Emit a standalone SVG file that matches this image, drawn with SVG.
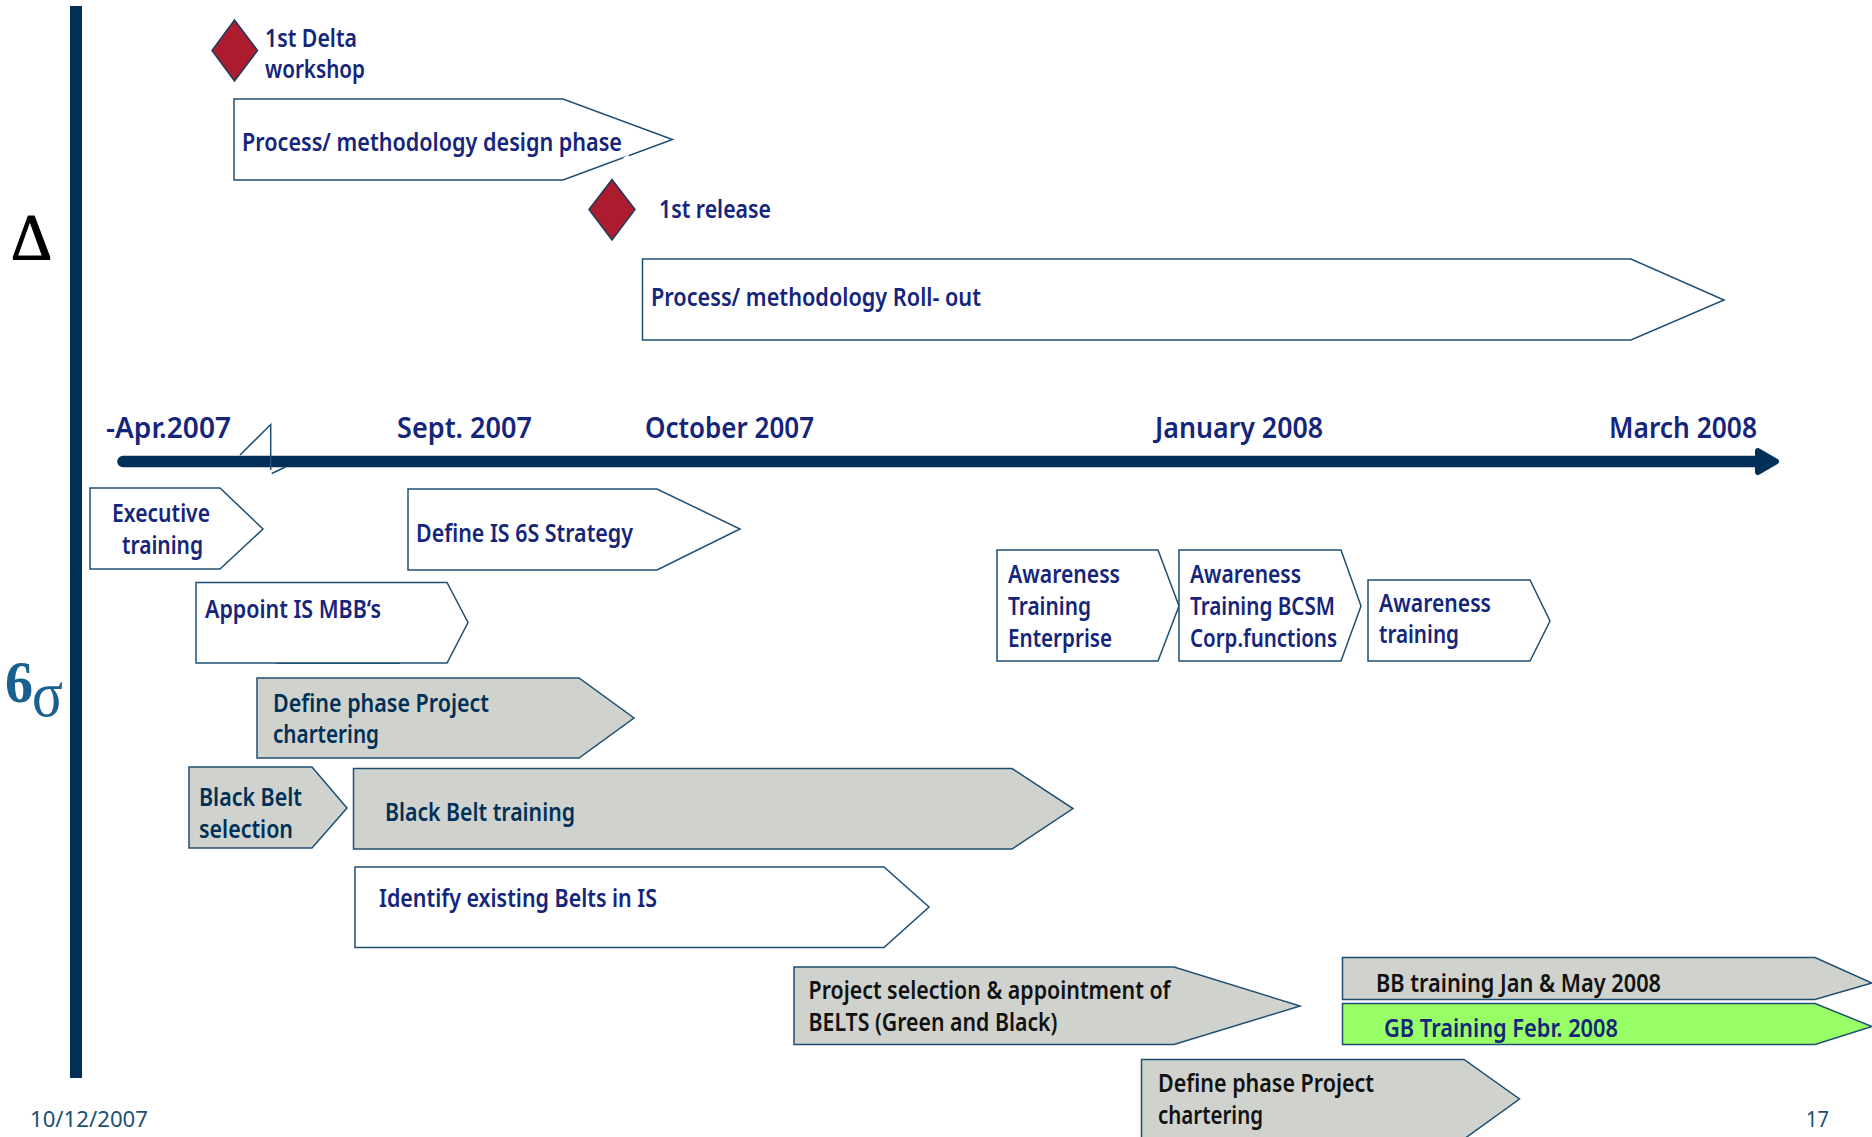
<svg xmlns="http://www.w3.org/2000/svg" width="1872" height="1137" viewBox="0 0 1872 1137">
<style>
text{font-family:"Noto Sans","Liberation Sans",sans-serif;font-size:25px;font-weight:600;fill:#14257a}
.d{fill:#003057}.k{fill:#111}
.date{font-size:29px}
.foot{font-size:21px;font-weight:400;fill:#1d4f73}
.s{stroke:#1d4f73;stroke-width:1.5;fill:#fff}
.g{fill:#d0d3cd}.l{fill:#99ff66}
.m{fill:#ad1c2e;stroke:#1d3a5f;stroke-width:1.5}
</style>
<defs><marker id="a" markerUnits="userSpaceOnUse" markerWidth="28" markerHeight="32" refX="3" refY="16" orient="auto"><path d="M3 5.500L21 16L3 26.500Z" fill="#003057" stroke="#003057" stroke-width="6" stroke-linejoin="round"/></marker></defs>
<rect id="bar" x="70" y="6" width="12" height="1072" fill="#003057"/>
<g id="symbols">
<text x="11" y="259" style="font-family:'Liberation Serif',serif;font-size:66px;font-weight:400;fill:#000;stroke:#000;stroke-width:1.2px" textLength="41" lengthAdjust="spacingAndGlyphs">Δ</text>
<text x="5" y="702" style="font-family:'Liberation Serif',serif;font-size:60px;font-weight:700;fill:#17608f" textLength="28" lengthAdjust="spacingAndGlyphs">6</text>
<text x="32" y="716" style="font-family:'Liberation Serif',serif;font-size:66px;font-weight:400;fill:#17608f" textLength="31" lengthAdjust="spacingAndGlyphs">σ</text>
</g>
<g id="connectors">
<path d="M123 461.500H1758" stroke="#003057" stroke-width="11.500" stroke-linecap="round" fill="none" marker-end="url(#a)"/>
</g>
<g id="n-delta"><path class="m" d="M234.500 20L257.500 50.500L234.500 81L212 50.500Z"/><text x="265" y="46.500" textLength="92" lengthAdjust="spacingAndGlyphs">1st Delta</text><text x="265" y="78" textLength="100" lengthAdjust="spacingAndGlyphs">workshop</text></g>
<g id="n-design"><path class="s" d="M234 99H563L672.500 139.500L563 180H234Z"/><path d="M624 159L629 156" stroke="#fff" stroke-width="3"/><text x="242" y="150.500" textLength="380" lengthAdjust="spacingAndGlyphs">Process/ methodology design phase</text></g>
<g id="n-release"><path class="m" d="M612 179.500L635 209.500L612 240L589 209.500Z"/><text x="659" y="217.500" textLength="112" lengthAdjust="spacingAndGlyphs">1st release</text></g>
<g id="n-rollout"><path class="s" d="M642.500 259H1631L1724 300L1631 340H642.500Z"/><text x="651" y="306" textLength="330" lengthAdjust="spacingAndGlyphs">Process/ methodology Roll- out</text></g>
<g id="dates">
<text class="date" x="106" y="438" textLength="125" lengthAdjust="spacingAndGlyphs">-Apr.2007</text>
<text class="date" x="397" y="438" textLength="135" lengthAdjust="spacingAndGlyphs">Sept. 2007</text>
<text class="date" x="645" y="438" textLength="169" lengthAdjust="spacingAndGlyphs">October 2007</text>
<text class="date" x="1155" y="438" textLength="168" lengthAdjust="spacingAndGlyphs">January 2008</text>
<text class="date" x="1609" y="438" textLength="148" lengthAdjust="spacingAndGlyphs">March 2008</text>
</g>
<g id="n-tick"><path d="M240 455L270.700 424.500V470M271.700 473.500L286 466.700" fill="none" stroke="#1d4f73" stroke-width="1.500"/></g>
<g id="n-exec"><path class="s" d="M90 488H220L263 529L220 569H90Z"/><text x="112" y="522" textLength="98" lengthAdjust="spacingAndGlyphs">Executive</text><text x="122" y="554" textLength="81" lengthAdjust="spacingAndGlyphs">training</text></g>
<g id="n-strategy"><path class="s" d="M408 489H657L740 529L657 570H408Z"/><text x="416" y="542" textLength="217" lengthAdjust="spacingAndGlyphs">Define IS 6S Strategy</text></g>
<g id="n-appoint"><path class="s" d="M196 582.500H447L468 622.500L447 663H196Z"/><path d="M276 663.500H400" stroke="#1d4f73" stroke-width="1"/><text x="205" y="618" textLength="176" lengthAdjust="spacingAndGlyphs">Appoint IS MBB‘s</text></g>
<g id="n-aw1"><path class="s" d="M997 550H1158L1179 606L1158 661H997Z"/><text x="1008" y="583" textLength="112" lengthAdjust="spacingAndGlyphs">Awareness</text><text x="1008" y="615" textLength="83" lengthAdjust="spacingAndGlyphs">Training</text><text x="1008" y="647" textLength="104" lengthAdjust="spacingAndGlyphs">Enterprise</text></g>
<g id="n-aw2"><path class="s" d="M1179 550H1341L1361 606L1341 661H1179Z"/><text x="1190" y="583" textLength="111" lengthAdjust="spacingAndGlyphs">Awareness</text><text x="1190" y="615" textLength="145" lengthAdjust="spacingAndGlyphs">Training BCSM</text><text x="1190" y="647" textLength="147" lengthAdjust="spacingAndGlyphs">Corp.functions</text></g>
<g id="n-aw3"><path class="s" d="M1368 580H1530L1550 621L1530 661H1368Z"/><text x="1379" y="612" textLength="112" lengthAdjust="spacingAndGlyphs">Awareness</text><text x="1379" y="643" textLength="80" lengthAdjust="spacingAndGlyphs">training</text></g>
<g id="n-define1"><path class="s g" d="M257 678H579L634 718L579 758H257Z"/><text class="d" x="273" y="712" textLength="216" lengthAdjust="spacingAndGlyphs">Define phase Project</text><text class="d" x="273" y="743" textLength="106" lengthAdjust="spacingAndGlyphs">chartering</text></g>
<g id="n-bbsel"><path class="s g" d="M189 767H312L347 808L312 848H189Z"/><text class="d" x="199" y="806" textLength="103" lengthAdjust="spacingAndGlyphs">Black Belt</text><text class="d" x="199" y="838" textLength="94" lengthAdjust="spacingAndGlyphs">selection</text></g>
<g id="n-bbtrain"><path class="s g" d="M353.500 768.500H1012L1073 808.500L1012 849H353.500Z"/><text class="d" x="385" y="821" textLength="190" lengthAdjust="spacingAndGlyphs">Black Belt training</text></g>
<g id="n-identify"><path class="s" d="M355 867H884L929 907L884 947.500H355Z"/><text x="379" y="907" textLength="278" lengthAdjust="spacingAndGlyphs">Identify existing Belts in IS</text></g>
<g id="n-project"><path class="s g" d="M794 967H1174L1300 1006L1174 1044.500H794Z"/><text class="k" x="808.500" y="999" textLength="362" lengthAdjust="spacingAndGlyphs">Project selection &amp; appointment of</text><text class="k" x="808.500" y="1031" textLength="249" lengthAdjust="spacingAndGlyphs">BELTS (Green and Black)</text></g>
<g id="n-bb"><path class="s g" d="M1342.500 957.500H1815L1872 983L1815 999.500H1342.500Z"/><text class="k" x="1376" y="992" textLength="285" lengthAdjust="spacingAndGlyphs">BB training Jan &amp; May 2008</text></g>
<g id="n-gb"><path class="s l" d="M1342.500 1003.500H1815L1872 1026.500L1815 1044.500H1342.500Z"/><text x="1384" y="1037" textLength="234" lengthAdjust="spacingAndGlyphs">GB Training Febr. 2008</text></g>
<g id="n-define2"><path class="s g" d="M1141.500 1059.500H1464L1519.500 1099L1464 1139H1141.500Z"/><text class="k" x="1158" y="1092" textLength="216" lengthAdjust="spacingAndGlyphs">Define phase Project</text><text class="k" x="1158" y="1124" textLength="105" lengthAdjust="spacingAndGlyphs">chartering</text></g>
<g id="footer"><text class="foot" x="30" y="1127" textLength="118" lengthAdjust="spacingAndGlyphs">10/12/2007</text><text class="foot" x="1806" y="1127" textLength="23" lengthAdjust="spacingAndGlyphs">17</text></g>
</svg>
